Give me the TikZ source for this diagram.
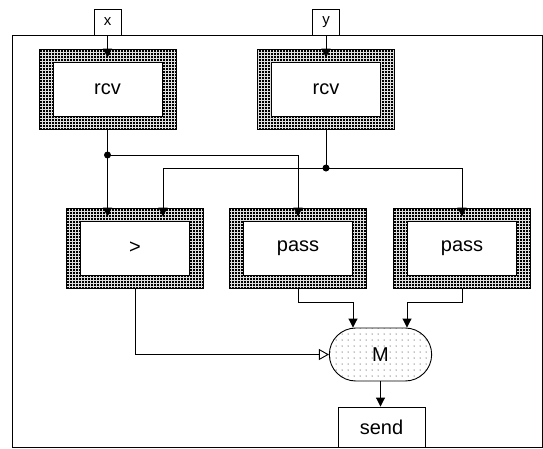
\documentclass[tikz,border=0pt]{standalone}
\usepackage{fontspec}
\setmainfont{Liberation Sans}
\usetikzlibrary{arrows.meta,shapes.misc,patterns}
\pgfdeclarepatternformonly{sparse dots}{\pgfqpoint{-1pt}{-1pt}}{\pgfqpoint{1pt}{1pt}}{\pgfqpoint{6pt}{6pt}}{\pgfpathcircle{\pgfqpoint{0pt}{0pt}}{0.5pt}\pgfusepath{fill}}
\newcommand{\boxfont}{\fontsize{20}{24}\selectfont}
\newcommand{\portfont}{\fontsize{15}{18}\selectfont}

\begin{document}
\begin{tikzpicture}[x=1pt, y=-1pt, line width=0.9pt,
    >={Triangle[width=9pt,length=9pt]},
    port/.style={draw, fill=white, minimum width=27pt, minimum height=26pt, inner sep=0pt, font=\portfont},
    actor/.style={draw, minimum width=137pt, minimum height=80pt, font=\boxfont,
      preaction={fill=black}, pattern=grid, pattern color=gray!25,
      path picture={\draw[fill=white] ([shift={(14pt,-13pt)}]path picture bounding box.north west)
        rectangle ([shift={(-14pt,13pt)}]path picture bounding box.south east);}},
    merge/.style={rounded rectangle, draw, minimum width=109pt, minimum height=53pt, font=\boxfont,
      preaction={fill=white}, pattern=sparse dots},
    sink/.style={draw, minimum width=87pt, minimum height=40pt, font=\boxfont},
    open/.style={-{Triangle[open,width=11pt,length=10pt]}}]
  \useasboundingbox (0,0) rectangle (543,448);
  \draw (12,35) rectangle (542,447);
  % inputs
  \node[port] (x) at (107.5,22) {x};
  \node[port] (y) at (326,22) {y};
  % actors
  \node[actor] (rcvx) at (107.5,89) {rcv};
  \node[actor] (rcvy) at (326,89) {rcv};
  \node[actor] (gt) at (135,248) {>};
  \node[actor] (passx) at (298,248) {pass};
  \node[actor] (passy) at (462,248) {pass};
  \node[merge] (m) at (380.5,354.5) {M};
  \node[sink] (send) at (381.5,427) {send};
  % wiring
  \coordinate (jx) at (rcvx.south |- 0,155);
  \coordinate (jy) at (rcvy.south |- 0,168);
  \draw[->] (x) -- ([yshift=-9pt]rcvx.north);
  \draw[->] (y) -- ([yshift=-9pt]rcvy.north);
  \draw (rcvx.south) -- (jx);
  \draw[->] (jx) -- ([yshift=-9pt]jx |- gt.north);
  \draw[->] (jx) -| ([yshift=-9pt]passx.north);
  \draw (rcvy.south) -- (jy);
  \draw[->] (jy) -| ([xshift=28pt,yshift=-9pt]gt.north);
  \draw[->] (jy) -| ([yshift=-9pt]passy.north);
  \fill (jx) circle (3.5pt);
  \fill (jy) circle (3.5pt);
  \draw[open] (gt.south) |- (m.west);
  \draw[->] (passx.south) -- ++(0,14) -| ([xshift=-27.5pt]m.north);
  \draw[->] (passy.south) -- ++(0,14) -| ([xshift=26.5pt]m.north);
  \draw[->] (m.south) -- (m.south |- send.north);
\end{tikzpicture}
\end{document}
